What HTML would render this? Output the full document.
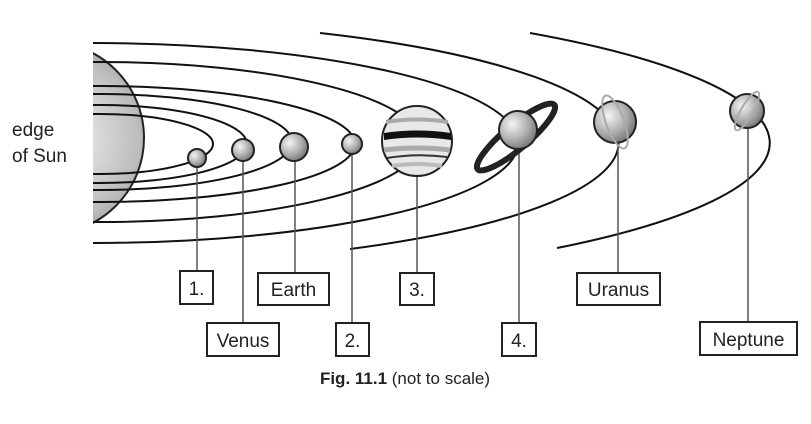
<!DOCTYPE html>
<html><head><meta charset="utf-8"><style>
html,body{margin:0;padding:0;background:#fff;}
svg{display:block;font-family:"Liberation Sans",Arial,sans-serif;}
</style></head><body>
<svg width="811" height="424" viewBox="0 0 811 424" xmlns="http://www.w3.org/2000/svg">
<defs>
<radialGradient id="g" cx="0.35" cy="0.35" r="0.75">
<stop offset="0" stop-color="#f4f4f4"/><stop offset="0.6" stop-color="#a8a8a8"/><stop offset="1" stop-color="#6a6a6a"/></radialGradient>
<radialGradient id="gs" cx="0.55" cy="0.5" r="0.6">
<stop offset="0" stop-color="#f6f6f6"/><stop offset="0.7" stop-color="#bdbdbd"/><stop offset="1" stop-color="#8a8a8a"/></radialGradient>
<clipPath id="c"><rect x="93" y="0" width="720" height="424"/></clipPath>
</defs>
<g clip-path="url(#c)">
<circle cx="48" cy="138" r="96" fill="url(#gs)" stroke="#222" stroke-width="2"/>
<g fill="none" stroke="#111" stroke-width="2">
<ellipse cx="100" cy="144" rx="113" ry="30"/>
<ellipse cx="100" cy="144" rx="147" ry="39"/>
<ellipse cx="100" cy="142" rx="192" ry="48"/>
<ellipse cx="100" cy="144" rx="255" ry="58"/>
<ellipse cx="100" cy="142" rx="320" ry="80"/>
<ellipse cx="93" cy="143" rx="425" ry="100"/>
</g>
</g>
<g fill="none" stroke="#111" stroke-width="2">
<path d="M320 33 A529 122 0 0 1 350 249"/>
<path d="M530 33 A675 144 0 0 1 557 248"/>
</g>
<text x="12" y="136" font-size="19" fill="#222">edge</text>
<text x="12" y="162" font-size="19" fill="#222">of Sun</text>
<g stroke="#555" stroke-width="1.5">
<line x1="197" y1="165" x2="197" y2="271"/>
<line x1="243" y1="158" x2="243" y2="323"/>
<line x1="295" y1="158" x2="295" y2="273"/>
<line x1="352" y1="150" x2="352" y2="323"/>
<line x1="417" y1="175" x2="417" y2="273"/>
<line x1="519" y1="150" x2="519" y2="323"/>
<line x1="618" y1="142" x2="618" y2="273"/>
<line x1="748" y1="128" x2="748" y2="322"/>
</g>
<g stroke="#222" stroke-width="2">
<circle cx="197" cy="158" r="9" fill="url(#g)"/>
<circle cx="243" cy="150" r="11" fill="url(#g)"/>
<circle cx="294" cy="147" r="14" fill="url(#g)"/>
<circle cx="352" cy="144" r="10" fill="url(#g)"/>
<circle cx="417" cy="141" r="35" fill="#e8e8e8"/>
</g>
<g>
<path d="M384 133 Q417 128 451 133 L451 140 Q417 135 384 140Z" fill="#111"/>
<path d="M386 122 Q417 117 448 122" stroke="#aaa" stroke-width="4" fill="none"/>
<path d="M384 150 Q417 146 450 150" stroke="#aaa" stroke-width="5" fill="none"/>
<path d="M387 158 Q417 153 447 157" stroke="#333" stroke-width="2" fill="none"/>
<path d="M392 166 Q417 162 442 166" stroke="#bbb" stroke-width="4" fill="none"/>
</g>
<g transform="rotate(-40 516 137)">
<ellipse cx="516" cy="137" rx="50" ry="12" fill="none" stroke="#222" stroke-width="6"/>
</g>
<circle cx="518" cy="130" r="19" fill="url(#g)" stroke="#222" stroke-width="2"/>
<circle cx="615" cy="122" r="21" fill="url(#g)" stroke="#222" stroke-width="2"/>
<ellipse cx="615" cy="122" rx="9" ry="28" transform="rotate(-20 615 122)" fill="none" stroke="#aaa" stroke-width="2"/>
<circle cx="747" cy="111" r="17" fill="url(#g)" stroke="#222" stroke-width="2"/>
<ellipse cx="747" cy="111" rx="6" ry="22" transform="rotate(30 747 111)" fill="none" stroke="#aaa" stroke-width="2"/>
<g fill="#fff" stroke="#222" stroke-width="2">
<rect x="180" y="271" width="33" height="33"/>
<rect x="207" y="323" width="72" height="33"/>
<rect x="258" y="273" width="71" height="32"/>
<rect x="336" y="323" width="33" height="33"/>
<rect x="400" y="273" width="34" height="32"/>
<rect x="502" y="323" width="34" height="33"/>
<rect x="577" y="273" width="83" height="32"/>
<rect x="700" y="322" width="97" height="33"/>
</g>
<g font-size="19" fill="#222" text-anchor="middle">
<text x="196.5" y="295">1.</text>
<text x="243" y="347">Venus</text>
<text x="293.5" y="296">Earth</text>
<text x="352.5" y="347">2.</text>
<text x="417" y="296">3.</text>
<text x="519" y="347">4.</text>
<text x="618.5" y="296">Uranus</text>
<text x="748.5" y="346">Neptune</text>
</g>
<text x="405" y="384" font-size="17" fill="#222" text-anchor="middle"><tspan font-weight="bold">Fig. 11.1</tspan> (not to scale)</text>
</svg>
</body></html>
